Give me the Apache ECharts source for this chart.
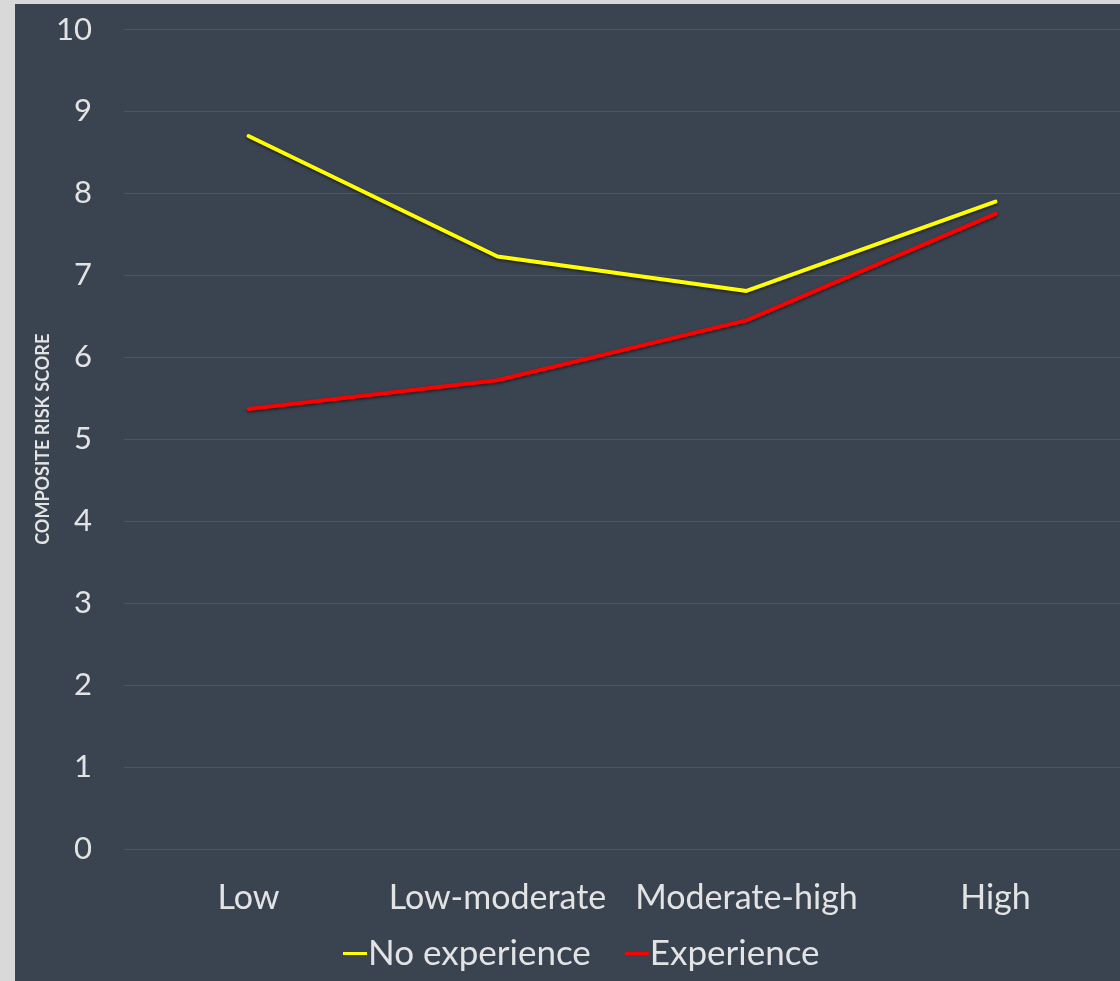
<!DOCTYPE html>
<html>
<head>
<meta charset="utf-8">
<script src="https://cdn.jsdelivr.net/npm/echarts@6/dist/echarts.min.js"></script>
<style>
  html, body { margin: 0; padding: 0; background: #d9d9d9; }
  #chart { position: absolute; left: 15px; top: 4px; width: 1105px; height: 977px; background: #3a4350; }
</style>
</head>
<body>
<div id="chart"></div>
<script>
// Composite risk score by risk level, with and without prior experience
const categories = ['Low', 'Low-moderate', 'Moderate-high', 'High'];
const noExperience = [8.70, 7.23, 6.81, 7.90];
const experience = [5.37, 5.72, 6.45, 7.75];
const yTicks = { min: 0, max: 10, interval: 1 };

const textColor = '#e3e3e3';
const fontFamily = 'Lato, "Open Sans", sans-serif';

const chart = echarts.init(document.getElementById('chart'), null, { renderer: 'canvas' });

const lineShadow = { shadowColor: 'rgba(0,0,0,0.55)', shadowBlur: 3, shadowOffsetY: 1.5 };

chart.setOption({
  backgroundColor: '#3a4350',
  animation: false,
  grid: { left: 109, top: 25.5, width: 1002, height: 819.5, containLabel: false },
  legend: {
    left: 323,
    top: 927,
    itemWidth: 24,
    itemHeight: 3,
    itemGap: 34,
    icon: 'rect',
    textStyle: { color: textColor, fontSize: 35, fontFamily: fontFamily, padding: [0, 0, 0, -4] },
    data: ['No experience', 'Experience']
  },
  xAxis: {
    type: 'category',
    data: categories,
    boundaryGap: true,
    axisLine: { show: false },
    axisTick: { show: false },
    axisLabel: { color: textColor, fontSize: 34, fontFamily: fontFamily, margin: 32, interval: 0 }
  },
  yAxis: {
    type: 'value',
    min: yTicks.min,
    max: yTicks.max,
    interval: yTicks.interval,
    name: 'COMPOSITE RISK SCORE',
    nameLocation: 'middle',
    nameGap: 72,
    nameMoveOverlap: false,
    nameTextStyle: { color: textColor, fontSize: 18, fontWeight: 'bold', fontFamily: fontFamily },
    axisLine: { show: false },
    axisTick: { show: false },
    axisLabel: { color: textColor, fontSize: 31, fontFamily: fontFamily, margin: 32 },
    splitLine: { lineStyle: { color: '#4d5763', width: 1 } }
  },
  series: [
    {
      name: 'No experience',
      type: 'line',
      data: noExperience,
      symbol: 'none',
      color: '#ffff00',
      lineStyle: Object.assign({ color: '#ffff00', width: 4, cap: 'round' }, lineShadow)
    },
    {
      name: 'Experience',
      type: 'line',
      data: experience,
      symbol: 'none',
      color: '#ff0000',
      lineStyle: Object.assign({ color: '#ff0000', width: 4, cap: 'round' }, lineShadow)
    }
  ]
});
</script>
</body>
</html>
